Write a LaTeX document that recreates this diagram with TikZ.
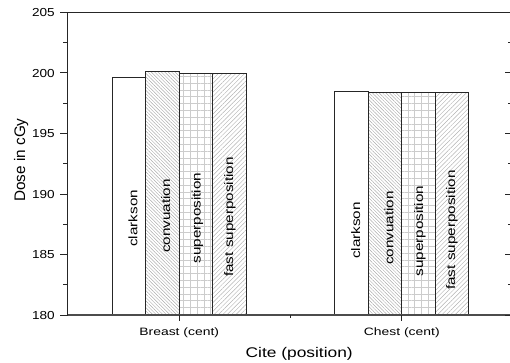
\documentclass[tikz,border=0pt]{standalone}
\usepackage{fontspec}
\setmainfont{Liberation Sans}
\usetikzlibrary{patterns.meta}
\begin{document}
\begin{tikzpicture}[x=1pt,y=-1pt,
  baroutline/.style={draw=black!85, line width=0.9pt},
  hatchdown/.style={pattern={Lines[angle=-45,distance=2.4pt,line width=0.45pt]}, pattern color=black!33},
  hatchup/.style={pattern={Lines[angle=45,distance=3.1pt,line width=0.45pt]}, pattern color=black!30},
  gridfill/.style={pattern={Hatch[angle=0,distance=6.8pt,line width=0.9pt]}, pattern color=black!20},
  ticklab/.style={anchor=base east, inner sep=0pt, font=\fontsize{11.6}{12}\selectfont},
  barlab/.style={rotate=90, anchor=base, inner sep=0pt, font=\fontsize{12.3}{13}\selectfont},
  catlab/.style={anchor=base, inner sep=0pt, font=\fontsize{10.7}{12}\selectfont},
  axisline/.style={line width=0.8pt, draw=black!85},
  tickline/.style={line width=0.7pt, draw=black!85}
 ]
\useasboundingbox (0,0) rectangle (510,362);
\clip (0,0) rectangle (510,362);

% Breast bars
\path[fill=white] (112,315) rectangle (145.7,77);
\path[hatchdown] (145.7,315) rectangle (179,71.7);
\path[fill=white] (179,315) rectangle (212.3,73.3);
\path[gridfill] (179,315) rectangle (212.3,73.3);
\path[hatchup] (212.3,315) rectangle (246,73.3);
\draw[baroutline] (112,315) rectangle (145.7,77);
\draw[baroutline] (145.7,315) rectangle (179,71.7);
\draw[baroutline] (179,315) rectangle (212.3,73.3);
\draw[baroutline] (212.3,315) rectangle (246,73.3);

% Chest bars
\path[fill=white] (334.7,315) rectangle (368,91.3);
\path[hatchdown] (368,315) rectangle (401.7,92.3);
\path[gridfill] (401.7,315) rectangle (435,92.3);
\path[hatchup] (435,315) rectangle (468.7,92.3);
\draw[baroutline] (334.7,315) rectangle (368,91.3);
\draw[baroutline] (368,315) rectangle (401.7,92.3);
\draw[baroutline] (401.7,315) rectangle (435,92.3);
\draw[baroutline] (435,315) rectangle (468.7,92.3);

% bar labels
\node[barlab] (b1) at (137.3,218.3) {\scalebox{1.24}[1]{clarkson}};
\node[barlab] (b2) at (170,216) {\scalebox{1.24}[1]{convuation}};
\node[barlab] (b3) at (200.7,218) {\scalebox{1.24}[1]{superposition}};
\node[barlab] (b4) at (233,217) {\scalebox{1.24}[1]{fast superposition}};
\node[barlab] (c1) at (360,230.5) {\scalebox{1.24}[1]{clarkson}};
\node[barlab] (c2) at (393.3,228) {\scalebox{1.24}[1]{convuation}};
\node[barlab] (c3) at (423,231) {\scalebox{1.24}[1]{superposition}};
\node[barlab] (c4) at (455,230) {\scalebox{1.24}[1]{fast superposition}};

% axes frame
\draw[axisline] (67.7,315) -- (67.7,12.3) -- (513,12.3) -- (513,315);
\draw[line width=1.5pt, draw=black!70] (67.7,315) -- (513,315);

% y ticks
\foreach \v in {180,185,...,205} {
  \pgfmathsetmacro{\yy}{315-(\v-180)*12.108}
  \draw[tickline] (60,\yy) -- (67.7,\yy);
  \draw[tickline] (505,\yy) -- (513,\yy);
  \node[ticklab] (t\v) at (55,\yy+4.2) {\scalebox{1.17}[1]{\v}};
}
\foreach \v in {182.5,187.5,192.5,197.5,202.5} {
  \pgfmathsetmacro{\yy}{315-(\v-180)*12.108}
  \draw[tickline] (63.3,\yy) -- (67.7,\yy);
  \draw[tickline] (508.3,\yy) -- (513,\yy);
}

% x ticks
\draw[tickline] (179,315) -- (179,320.7);
\draw[tickline] (401.7,315) -- (401.7,320.7);
\draw[tickline] (290.3,315) -- (290.3,317.8);

% category labels
\node[catlab] (breast) at (179.2,335) {\scalebox{1.3}[1]{Breast (cent)}};
\node[catlab] (chest) at (401.8,335) {\scalebox{1.3}[1]{Chest (cent)}};

% axis titles
\node[anchor=base, inner sep=0pt, font=\fontsize{14}{15}\selectfont] (xlab) at (299.2,357.3) {\scalebox{1.24}[1]{Cite (position)}};
\node[rotate=90, anchor=base, inner sep=0pt, font=\fontsize{15.3}{16}\selectfont] (ylab) at (25,160) {Dose in cGy};
\end{tikzpicture}
\end{document}
